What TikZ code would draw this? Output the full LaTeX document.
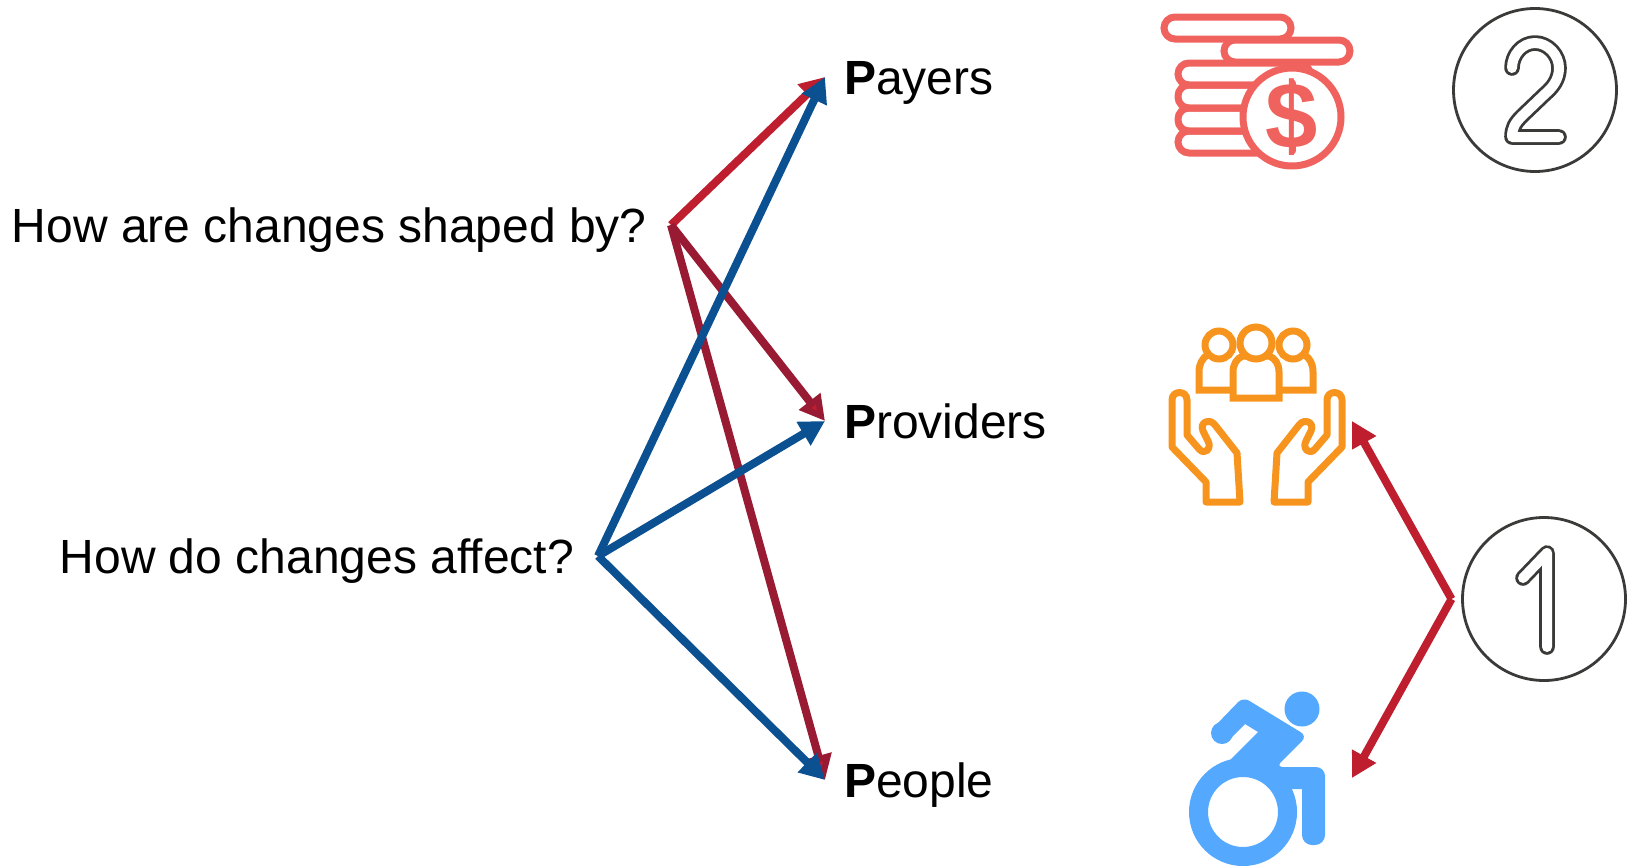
\documentclass[tikz,border=0pt]{standalone}
\usepackage{fontspec}
\setmainfont{Liberation Sans}
\usepackage{tikz}
\usetikzlibrary{arrows.meta}

\definecolor{redline}{HTML}{BE1E2D}
\definecolor{darkredline}{HTML}{981B33}
\definecolor{blueline}{HTML}{0B5091}
\definecolor{coinred}{HTML}{F0625D}
\definecolor{careorange}{HTML}{F7941D}
\definecolor{chairblue}{HTML}{54A9FF}
\definecolor{badgegray}{HTML}{3A3A38}

\tikzset{
  wordnode/.style={font=\fontsize{48}{56}\selectfont, text height=44pt, text depth=10pt, inner ysep=0pt},
  asknode/.style={wordnode, anchor=east, inner xsep=24pt},
  pnode/.style={wordnode, anchor=west, inner xsep=19pt},
  redarrow/.style={line width=8pt, redline, -{Triangle[length=25pt,width=26pt]}},
  darkarrow/.style={line width=8pt, darkredline, -{Triangle[length=25pt,width=26pt,fill=redline]}},
  bluearrow/.style={line width=8pt, blueline, -{Triangle[length=25pt,width=26pt]}},
  badge/.style={circle, draw=badgegray, line width=2.8pt, minimum size=163pt, inner sep=0pt, outer sep=11pt},
  digit/.style={badgegray, line width=2.8pt, double=white, double distance=10pt, line cap=round, line join=round},
  coinline/.style={coinred, line width=7pt},
  careline/.style={careorange, line width=7pt}
}

\begin{document}
\begin{tikzpicture}[x=1pt,y=-1pt]
  \useasboundingbox (0,0) rectangle (1632,865);

  \draw (671,225) node[asknode] (shaped) {How are changes shaped by?};
  \draw (598,556) node[asknode] (affect) {How do changes affect?};
  \draw (825,77) node[pnode] (payers) {\textbf{P}ayers};
  \draw (825,421) node[pnode] (providers) {\textbf{P}roviders};
  \draw (825,780) node[pnode] (people) {\textbf{P}eople};

  \path[redarrow] (shaped.east) edge (payers.west);
  \path[darkarrow] (shaped.east) edge (providers.west);
  \path[darkarrow] (shaped.east) edge (people.west);
  \path[bluearrow] (affect.east) edge (payers.west);
  \path[bluearrow] (affect.east) edge (providers.west);
  \path[bluearrow] (affect.east) edge (people.west);

  % coins
  \draw[coinline, rounded corners=11pt] (1178,63) rectangle (1310,85);
  \draw[coinline, rounded corners=11pt] (1178,85) rectangle (1310,108);
  \draw[coinline, rounded corners=11pt] (1178,108) rectangle (1310,131);
  \draw[coinline, rounded corners=11pt] (1178,131) rectangle (1310,153);
  \draw[coinline, fill=white, rounded corners=11pt] (1224,40) rectangle (1350,62);
  \draw[coinline, fill=white, rounded corners=11pt] (1164,17) rectangle (1291,39);
  \draw[coinline, fill=white] (1292,117) circle (49);
  \draw (1292,117) node[coinred, font=\fontsize{94}{100}\selectfont\bfseries] (dollar) {\$};
  \draw[coinline, line cap=round] (dollar.center) ++(0,-34) -- ++(0,5);
  \draw[coinline, line cap=round] (dollar.center) ++(0,34) -- ++(0,-5);

  % badge two
  \draw (1535,90) node[badge] (two) {};
  \draw[digit] (1512,68) .. controls (1512,55) and (1522,43) .. (1535,43)
    .. controls (1548,43) and (1559,55) .. (1559,68)
    .. controls (1559,80) and (1552,88) .. (1545,94) -- (1522,116)
    .. controls (1515,123) and (1512,128) .. (1512,137) -- (1559,137);

  % people and hands
  \draw[careline] (1232,390) -- (1199,390) -- (1199,372) .. controls (1199,364) and (1202,359) .. (1207,355);
  \draw[careline] (1280,390) -- (1313,390) -- (1313,372) .. controls (1313,364) and (1310,359) .. (1305,355);
  \draw[careline, fill=white] (1219,345) circle (14);
  \draw[careline, fill=white] (1293,345) circle (14);
  \draw[careline, fill=white] (1233,398) -- (1233,372) .. controls (1233,364) and (1237,358) .. (1243,356)
    -- (1269,356) .. controls (1275,358) and (1279,364) .. (1279,372) -- (1279,398) -- cycle;
  \draw[careline, fill=white] (1256,343) circle (16);
  \foreach \side/\flip in {0/1,2514/-1}
    \draw[careline, line join=round, xshift=\side pt, xscale=\flip] (1206,502) -- (1206,482) -- (1172,447) -- (1172,400)
      .. controls (1172,390) and (1187,390) .. (1187,400) -- (1187,435) -- (1199,449)
      .. controls (1205,456) and (1212,448) .. (1208,441) -- (1203,431)
      .. controls (1199,422) and (1210,418) .. (1215,425) -- (1237,453) -- (1240,502) -- cycle;

  % wheelchair
  \fill[chairblue] (1302,709) circle (17.5);
  \draw[chairblue, line width=19pt] (1243,812) circle (44.5);
  \fill[chairblue] (1222,733) circle (11);
  \fill[chairblue, rounded corners=7pt] (1215,726) -- (1243,697) -- (1307,736) -- (1276,767) [rounded corners=9pt] -- (1325,767)
    [rounded corners=10pt] -- (1325,845) -- (1302,845) [sharp corners] -- (1302,789) -- (1290,789) -- (1228,762)
    -- (1258,732) -- (1245,724) -- (1228,741) -- cycle;

  % badge one
  \draw (1544,599) node[badge] (one) {};
  \draw[digit] (1547,647) -- (1547,553) -- (1523,578);
  \coordinate (careicon) at (1352,421);
  \coordinate (chairicon) at (1352,778);
  \path[redarrow] (one.west) edge (careicon);
  \path[redarrow] (one.west) edge (chairicon);
\end{tikzpicture}
\end{document}
